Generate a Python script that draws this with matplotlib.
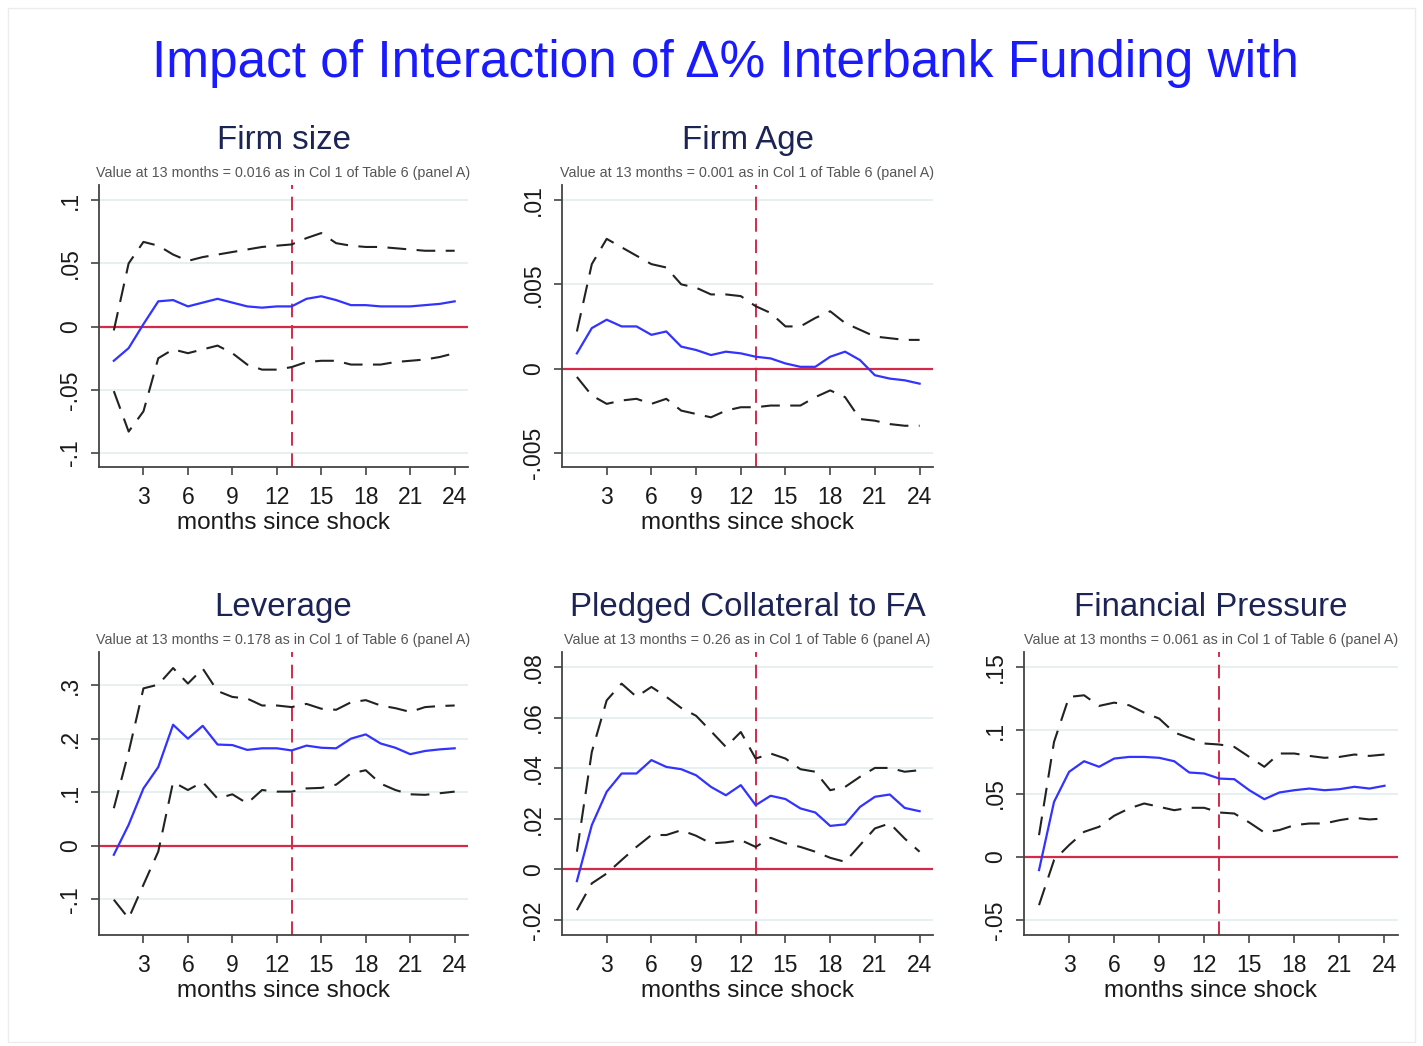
import numpy as np
import matplotlib
matplotlib.use("Agg")
import matplotlib.pyplot as plt
from matplotlib.patches import Rectangle

plt.rcParams['font.family'] = ['Liberation Sans', 'DejaVu Sans']

# meses desde el shock
months = list(range(1, 25))
xticks = [3, 6, 9, 12, 15, 18, 21, 24]

# Firm size
size_est = [-0.027, -0.017, 0.002, 0.020, 0.021, 0.016, 0.019, 0.022, 0.019, 0.016, 0.015, 0.016,
            0.016, 0.022, 0.024, 0.021, 0.017, 0.017, 0.016, 0.016, 0.016, 0.017, 0.018, 0.020]
size_hi = [-0.003, 0.050, 0.067, 0.064, 0.057, 0.052, 0.055, 0.057, 0.059, 0.061, 0.063, 0.064,
           0.065, 0.070, 0.074, 0.066, 0.064, 0.063, 0.063, 0.062, 0.061, 0.060, 0.060, 0.060]
size_lo = [-0.051, -0.083, -0.067, -0.025, -0.018, -0.021, -0.018, -0.015, -0.021, -0.030, -0.034, -0.034,
           -0.032, -0.028, -0.027, -0.027, -0.030, -0.030, -0.030, -0.028, -0.027, -0.026, -0.024, -0.021]

# Firm Age
age_est = [0.0009, 0.0024, 0.0029, 0.0025, 0.0025, 0.0020, 0.0022, 0.0013, 0.0011, 0.0008, 0.0010, 0.0009,
           0.0007, 0.0006, 0.0003, 0.0001, 0.0001, 0.0007, 0.0010, 0.0005, -0.0004, -0.0006, -0.0007, -0.0009]
age_hi = [0.0022, 0.0062, 0.0077, 0.0072, 0.0067, 0.0062, 0.0060, 0.0050, 0.0048, 0.0044, 0.0044, 0.0043,
          0.0037, 0.0033, 0.0025, 0.0025, 0.0030, 0.0034, 0.0027, 0.0023, 0.0019, 0.0018, 0.0017, 0.0017]
age_lo = [-0.0005, -0.0016, -0.0021, -0.0019, -0.0018, -0.0021, -0.0018, -0.0025, -0.0027, -0.0029, -0.0025, -0.0023,
          -0.0023, -0.0022, -0.0022, -0.0022, -0.0017, -0.0013, -0.0017, -0.0030, -0.0031, -0.0033, -0.0034, -0.0034]

# Leverage
lev_est = [-0.017, 0.039, 0.107, 0.147, 0.226, 0.200, 0.224, 0.189, 0.188, 0.179, 0.182, 0.182,
           0.178, 0.187, 0.183, 0.182, 0.200, 0.208, 0.191, 0.183, 0.171, 0.177, 0.180, 0.182]
lev_hi = [0.070, 0.175, 0.294, 0.301, 0.332, 0.303, 0.331, 0.289, 0.278, 0.275, 0.262, 0.262,
          0.259, 0.265, 0.256, 0.254, 0.268, 0.272, 0.262, 0.257, 0.250, 0.259, 0.261, 0.262]
lev_lo = [-0.101, -0.136, -0.073, -0.011, 0.119, 0.104, 0.119, 0.088, 0.096, 0.079, 0.104, 0.101,
          0.101, 0.107, 0.108, 0.114, 0.135, 0.141, 0.116, 0.104, 0.096, 0.095, 0.098, 0.101]

# Pledged Collateral to FA
ple_est = [-0.0046, 0.0175, 0.0307, 0.0379, 0.0379, 0.0432, 0.0405, 0.0396, 0.0372, 0.0326, 0.0293, 0.0333,
           0.0254, 0.0291, 0.0278, 0.0241, 0.0225, 0.0172, 0.0178, 0.0247, 0.0287, 0.0296, 0.0243, 0.0230]
ple_hi = [0.0070, 0.0464, 0.0668, 0.0734, 0.0682, 0.0721, 0.0682, 0.0638, 0.0607, 0.0546, 0.0484, 0.0543,
          0.0438, 0.0458, 0.0438, 0.0396, 0.0386, 0.0313, 0.0326, 0.0366, 0.0401, 0.0401, 0.0386, 0.0392]
ple_lo = [-0.0161, -0.0055, -0.0016, 0.0037, 0.0089, 0.0136, 0.0136, 0.0155, 0.0133, 0.0103, 0.0107, 0.0116,
          0.0089, 0.0125, 0.0103, 0.0089, 0.0070, 0.0046, 0.0030, 0.0096, 0.0162, 0.0182, 0.0122, 0.0070]

# Financial Pressure
fin_est = [-0.0105, 0.0434, 0.0671, 0.0755, 0.0711, 0.0776, 0.0789, 0.0789, 0.0782, 0.0755, 0.0666, 0.0658,
           0.0618, 0.0613, 0.0526, 0.0455, 0.0508, 0.0526, 0.0539, 0.0526, 0.0534, 0.0553, 0.0539, 0.0561]
fin_hi = [0.0171, 0.0908, 0.1263, 0.1276, 0.1192, 0.1218, 0.1197, 0.1139, 0.1092, 0.0982, 0.0939, 0.0895,
          0.0887, 0.0868, 0.0789, 0.0711, 0.0816, 0.0816, 0.0797, 0.0782, 0.0789, 0.0808, 0.0797, 0.0808]
fin_lo = [-0.0382, -0.0026, 0.0092, 0.0197, 0.0237, 0.0324, 0.0382, 0.0421, 0.0395, 0.0368, 0.0387, 0.0387,
          0.0350, 0.0342, 0.0271, 0.0192, 0.0211, 0.0250, 0.0263, 0.0263, 0.0289, 0.0308, 0.0295, 0.0303]

titulos = ["Firm size", "Firm Age", "Leverage", "Pledged Collateral to FA", "Financial Pressure"]
valores13 = ["0.016", "0.001", "0.178", "0.26", "0.061"]
yticks_list = [[-0.1, -0.05, 0, 0.05, 0.1],
               [-0.005, 0, 0.005, 0.01],
               [-0.1, 0, 0.1, 0.2, 0.3],
               [-0.02, 0, 0.02, 0.04, 0.06, 0.08],
               [-0.05, 0, 0.05, 0.1, 0.15]]
ytlabels_list = [["-.1", "-.05", "0", ".05", ".1"],
                 ["-.005", "0", ".005", ".01"],
                 ["-.1", "0", ".1", ".2", ".3"],
                 ["-.02", "0", ".02", ".04", ".06", ".08"],
                 ["-.05", "0", ".05", ".1", ".15"]]
ylims = [(-0.111, 0.112), (-0.00585, 0.0109), (-0.167, 0.362), (-0.0259, 0.0859), (-0.0618, 0.1618)]
series = [(size_est, size_hi, size_lo), (age_est, age_hi, age_lo), (lev_est, lev_hi, lev_lo),
          (ple_est, ple_hi, ple_lo), (fin_est, fin_hi, fin_lo)]

# posiciones de los paneles en pixeles (izq, der, arriba, abajo)
W, H = 1423, 1046
cajas = [(99, 468, 185, 467), (562, 933, 185, 467),
         (99, 468, 652, 935), (562, 933, 652, 935), (1024, 1398, 652, 935)]

fig = plt.figure(figsize=(W / 100, H / 100), dpi=100)
fig.patches.append(Rectangle((8 / W, 4 / H), 1 - 16 / W, 1 - 12 / H, transform=fig.transFigure,
                             fill=False, edgecolor='#ececec', linewidth=1))

fig.text(725 / W, 1 - 64 / H, "Impact of Interaction of \u0394% Interbank Funding with",
         color='#1a1aff', fontsize=37, ha='center', va='center')

rojo = '#d42a4a'
for i in range(5):
    l, r, t, b = cajas[i]
    ax = fig.add_axes([l / W, 1 - b / H, (r - l) / W, (b - t) / H])
    est, hi, lo = series[i]

    for yv in yticks_list[i]:
        ax.axhline(yv, color='#e3eded', lw=1.2, zorder=0)
    ax.axhline(0, color=rojo, lw=1.6, zorder=2)
    ax.axvline(13, color=rojo, lw=1.4, dashes=(7, 4), zorder=2)
    ax.plot(months, hi, color='#222222', lw=1.5, dashes=(9, 5), zorder=3)
    ax.plot(months, lo, color='#222222', lw=1.5, dashes=(9, 5), zorder=3)
    ax.plot(months, est, color='#3333ff', lw=1.6, zorder=4)

    ax.set_xlim(0, 24.9)
    ax.set_ylim(*ylims[i])
    ax.set_xticks(xticks)
    ax.set_yticks(yticks_list[i])
    ax.set_yticklabels(ytlabels_list[i], rotation=90, va='center')
    ax.tick_params(axis='both', length=6, width=1.2, color='#444444', labelsize=16.5, labelcolor='#1a1a1a')
    ax.tick_params(axis='x', pad=7.5)
    ax.tick_params(axis='y', pad=6)
    for s in ['top', 'right']:
        ax.spines[s].set_visible(False)
    for s in ['left', 'bottom']:
        ax.spines[s].set_color('#444444')
        ax.spines[s].set_linewidth(1.3)
    ax.set_xlabel("months since shock", fontsize=17.5, color='#1a1a1a', labelpad=2.5)

    ax.annotate(titulos[i], xy=(0.5, 1), xycoords='axes fraction', xytext=(0, 32),
                textcoords='offset points', ha='center', va='center', fontsize=23.8, color='#1c2455')
    ax.annotate("Value at 13 months = " + valores13[i] + " as in Col 1 of Table 6 (panel A)",
                xy=(0.5, 1), xycoords='axes fraction', xytext=(0, 8.6),
                textcoords='offset points', ha='center', va='center', fontsize=10.3, color='#555555')

fig.savefig("out.png", dpi=100)
